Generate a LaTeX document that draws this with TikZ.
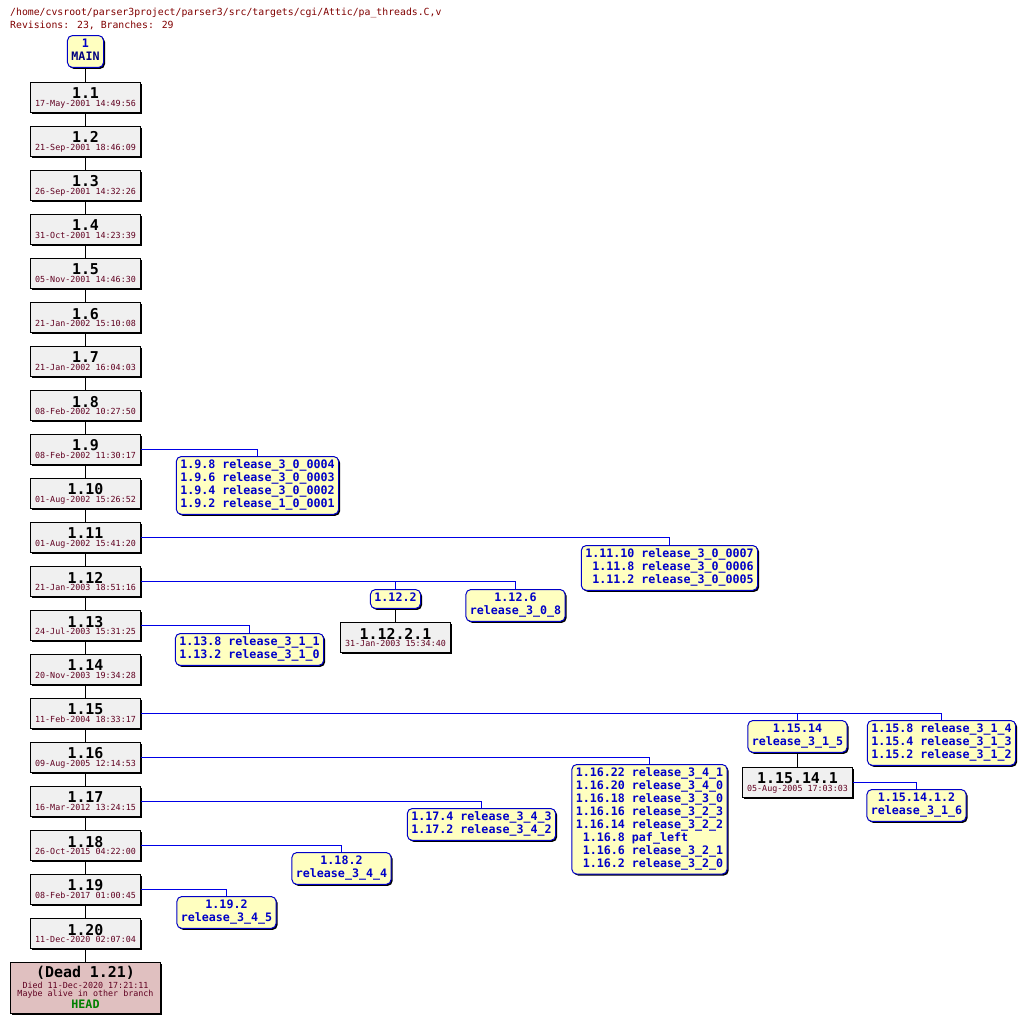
\documentclass[tikz,border=0pt]{standalone}
\usepackage{fontspec}
\usepackage{tikz}
\usetikzlibrary{shadows}
\newfontfamily\cvsfont{DejaVu Sans Mono}
\definecolor{revfill}{RGB}{240,240,240}
\definecolor{tagfill}{RGB}{255,255,192}
\definecolor{tagblue}{RGB}{0,0,200}
\definecolor{linkblue}{RGB}{0,0,230}
\definecolor{mainblue}{RGB}{0,0,128}
\definecolor{datered}{RGB}{96,0,32}
\definecolor{pathred}{RGB}{128,0,0}
\definecolor{deadfill}{RGB}{224,192,192}
\definecolor{headgreen}{RGB}{0,128,0}
\newcommand\revlabel[2]{{\bfseries\fontsize{15}{15}\selectfont #1}\\{\color{datered}#2}}
\newcommand\taglist[1]{\begin{tabular}{@{}r@{ }l@{}}#1\end{tabular}}
\newcommand\tagpair[2]{\begin{tabular}{@{}c@{}}#1\\#2\end{tabular}}

\begin{document}
\begin{tikzpicture}[x=1bp,y=-1bp,
    every node/.style={font=\cvsfont},
    boxshadow/.style={general shadow={fill=black,shadow xshift=1.5bp,shadow yshift=-1.5bp}},
    revbox/.style={draw,fill=revfill,line width=1bp,boxshadow,minimum width=110bp,
      minimum height=30bp,inner sep=0pt,align=center,font=\cvsfont\fontsize{8.4}{8}\selectfont},
    tagbox/.style={draw=tagblue,fill=tagfill,line width=1bp,boxshadow,rounded corners=5bp,
      inner xsep=4bp,inner ysep=3bp,anchor=north,text=tagblue,
      font=\cvsfont\bfseries\fontsize{11.7}{13}\selectfont},
    link/.style={color=linkblue,line width=1bp},
    trunk/.style={color=black,line width=1bp}]
  \useasboundingbox (0,0) rectangle (1026,1023);

  % file name and counts
  \node[anchor=north west,inner sep=0pt,text=pathred,font=\cvsfont\fontsize{9.85}{13}\selectfont] (title) at (10,6.5)
    {\begin{tabular}{@{}l@{}}/home/cvsroot/parser3project/parser3/src/targets/cgi/Attic/pa\_threads.C,v\\
      Revisions: 23, Branches: 29\end{tabular}};

  \node[tagbox,anchor=center] (main) at (85.5,51.5) {\tagpair{1}{\color{mainblue}MAIN}};

  % trunk revisions
  \foreach \rev/\date [count=\i] in {1.1/17-May-2001 14:49:56, 1.2/21-Sep-2001 18:46:09,
      1.3/26-Sep-2001 14:32:26, 1.4/31-Oct-2001 14:23:39, 1.5/05-Nov-2001 14:46:30,
      1.6/21-Jan-2002 15:10:08, 1.7/21-Jan-2002 16:04:03, 1.8/08-Feb-2002 10:27:50,
      1.9/08-Feb-2002 11:30:17, 1.10/01-Aug-2002 15:26:52, 1.11/01-Aug-2002 15:41:20,
      1.12/21-Jan-2003 18:51:16, 1.13/24-Jul-2003 15:31:25, 1.14/20-Nov-2003 19:34:28,
      1.15/11-Feb-2004 18:33:17, 1.16/09-Aug-2005 12:14:53, 1.17/16-Mar-2012 13:24:15,
      1.18/26-Oct-2015 04:22:00, 1.19/08-Feb-2017 01:00:45, 1.20/11-Dec-2020 02:07:04}
    \node[revbox] (r\i) at (85.5,{53.5+44*\i}) {\revlabel{\rev}{\date}};

  \node[revbox,fill=deadfill,minimum width=150bp,minimum height=51bp] (dead) at (85.5,987.5)
    {{\bfseries\fontsize{15}{15}\selectfont (Dead 1.21)}\\[1pt]
     {\color{datered}Died 11-Dec-2020 17:21:11}\\
     {\color{datered}Maybe alive in other branch}\\[1pt]
     {\bfseries\color{headgreen}\fontsize{11.7}{12}\selectfont HEAD}};

  \draw[trunk] (main) -- (r1);
  \foreach \i [evaluate={\j=int(\i+1)}] in {1,...,19}
    \draw[trunk] (r\i) -- (r\j);
  \draw[trunk] (r20) -- (dead);

  % branches and tags
  \node[tagbox] (t9) at (257.5,456) {\taglist{1.9.8&release\_3\_0\_0004\\1.9.6&release\_3\_0\_0003\\
    1.9.4&release\_3\_0\_0002\\1.9.2&release\_1\_0\_0001}};
  \node[tagbox] (t11) at (669.5,545) {\taglist{1.11.10&release\_3\_0\_0007\\1.11.8&release\_3\_0\_0006\\
    1.11.2&release\_3\_0\_0005}};
  \node[tagbox] (t12a) at (395.5,589) {\tagpair{1.12.2}{}};
  \node[tagbox] (t12b) at (515.5,589) {\tagpair{1.12.6}{release\_3\_0\_8}};
  \node[revbox] (r12b1) at (395.5,637.5) {\revlabel{1.12.2.1}{31-Jan-2003 15:34:40}};
  \node[tagbox] (t13) at (249.5,633) {\taglist{1.13.8&release\_3\_1\_1\\1.13.2&release\_3\_1\_0}};
  \node[tagbox] (t15a) at (797.5,720) {\tagpair{1.15.14}{release\_3\_1\_5}};
  \node[tagbox] (t15b) at (941.5,720) {\taglist{1.15.8&release\_3\_1\_4\\1.15.4&release\_3\_1\_3\\
    1.15.2&release\_3\_1\_2}};
  \node[revbox] (r15a1) at (797.5,782.5) {\revlabel{1.15.14.1}{05-Aug-2005 17:03:03}};
  \node[tagbox] (t15c) at (916.5,789) {\tagpair{1.15.14.1.2}{release\_3\_1\_6}};
  \node[tagbox] (t16) at (649.5,764) {\taglist{1.16.22&release\_3\_4\_1\\1.16.20&release\_3\_4\_0\\
    1.16.18&release\_3\_3\_0\\1.16.16&release\_3\_2\_3\\1.16.14&release\_3\_2\_2\\
    1.16.8&paf\_left\\1.16.6&release\_3\_2\_1\\1.16.2&release\_3\_2\_0}};
  \node[tagbox] (t17) at (481.5,808) {\taglist{1.17.4&release\_3\_4\_3\\1.17.2&release\_3\_4\_2}};
  \node[tagbox] (t18) at (341.5,852) {\tagpair{1.18.2}{release\_3\_4\_4}};
  \node[tagbox] (t19) at (226.5,896) {\tagpair{1.19.2}{release\_3\_4\_5}};

  \foreach \from/\to in {r9/t9, r11/t11, r12/t12b, r13/t13, r15/t15b, r16/t16, r17/t17, r18/t18, r19/t19, r15a1/t15c}
    \draw[link] (\from) -| (\to);
  \draw[link] (t12a) -- (t12a |- r12);
  \draw[link] (t15a) -- (t15a |- r15);
  \draw[trunk] (t12a) -- (r12b1);
  \draw[trunk] (t15a) -- (r15a1);
\end{tikzpicture}
\end{document}
